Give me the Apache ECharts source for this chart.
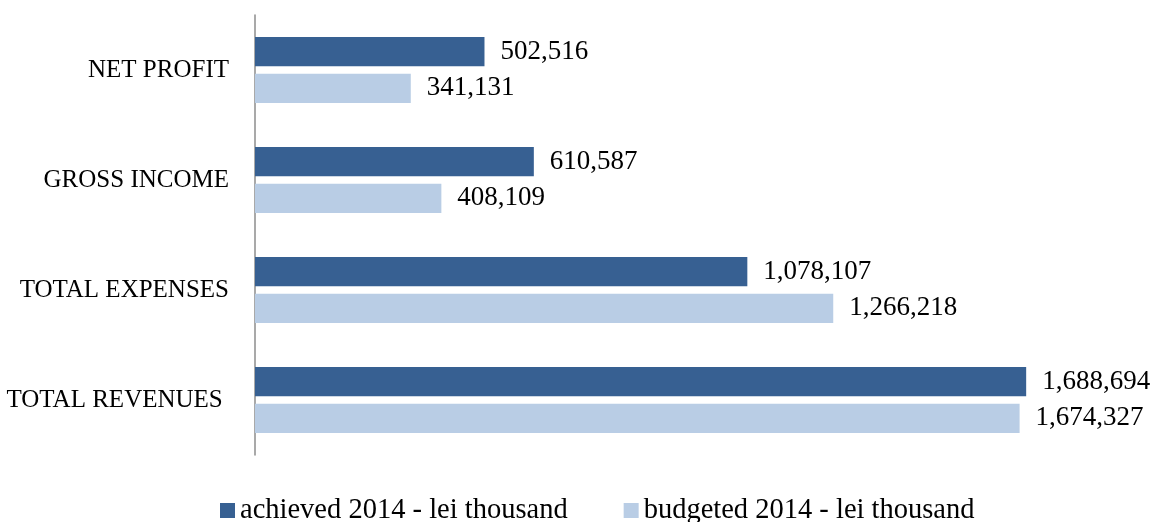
<!DOCTYPE html>
<html>
<head>
<meta charset="utf-8">
<script src="https://cdn.jsdelivr.net/npm/echarts@6/dist/echarts.min.js"></script>
<style>
html,body{margin:0;padding:0;background:#fff;}
#chart{width:1158px;height:522px;}
</style>
</head>
<body>
<div id="chart"></div>
<script>
// Categories listed bottom-to-top (ECharts category y-axis starts at the bottom)
const categories = ['TOTAL REVENUES ', 'TOTAL EXPENSES', 'GROSS INCOME', 'NET PROFIT'];
const achieved = [1688694, 1078107, 610587, 502516];
const budgeted = [1674327, 1266218, 408109, 341131];
const seriesNames = ['achieved 2014 - lei thousand', 'budgeted 2014 - lei thousand'];

const FONT = '"Liberation Serif", "DejaVu Serif", serif';
const fmt = v => Number(v).toLocaleString('en-US');

const chart = echarts.init(document.getElementById('chart'), null, {renderer: 'canvas'});
const labelCfg = {
  show: true,
  position: 'right',
  distance: 16,
  color: '#000',
  fontFamily: FONT,
  fontSize: 27,
  formatter: p => fmt(p.value)
};
chart.setOption({
  animation: false,
  backgroundColor: '#fff',
  grid: {left: 255, top: 15, right: 81, bottom: 67, containLabel: false},
  xAxis: {
    type: 'value', min: 0, max: 1800000, show: false,
    splitLine: {show: false}
  },
  yAxis: {
    type: 'category',
    data: categories,
    axisLine: {show: true, lineStyle: {color: '#8c8c8c', width: 1.5}},
    axisTick: {show: false},
    axisLabel: {color: '#000', fontFamily: FONT, fontSize: 25, margin: 26}
  },
  legend: {
    left: 220, top: 496, padding: 0,
    itemWidth: 15, itemHeight: 15, itemGap: 56,
    icon: 'rect',
    textStyle: {color: '#000', fontFamily: FONT, fontSize: 28.5, lineHeight: 29},
    data: seriesNames
  },
  series: [
    {
      name: seriesNames[0], type: 'bar', data: achieved,
      barGap: '25%', barCategoryGap: '40%',
      itemStyle: {color: '#376092'},
      label: labelCfg
    },
    {
      name: seriesNames[1], type: 'bar', data: budgeted,
      barGap: '25%', barCategoryGap: '40%',
      itemStyle: {color: '#B9CDE5'},
      label: labelCfg
    }
  ]
});
</script>
</body>
</html>
